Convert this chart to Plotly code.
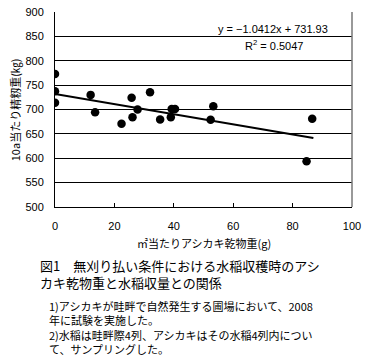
import plotly.graph_objects as go

# Data
weed_dry_weight = [0, 0, 0, 12, 13.5, 22.4, 25.8, 26.1, 27.8, 32, 35.4, 39, 39.3, 40.4, 52.4, 53.3, 84.7, 86.6]
rice_yield = [773, 737.5, 713.7, 730, 694.5, 670.7, 724, 684, 700, 735.5, 679.5, 684, 701, 701, 679, 706.8, 594, 681]
trend_slope = -1.0412
trend_intercept = 731.93
trend_x = [0, 87]
trend_y = [trend_intercept + trend_slope * v for v in trend_x]
x_ticks = [0, 20, 40, 60, 80, 100]
y_ticks = [500, 550, 600, 650, 700, 750, 800, 850, 900]

W, H = 372, 360
L, T = 55, 11.5
PW, PH = 297, 195.5
R = W - L - PW
B = H - T - PH


def px(x):
    return (x - L) / PW


def py(y):
    return (T + PH - y) / PH


JP = "Noto Sans CJK JP, Liberation Sans, sans-serif"
AR = "Liberation Sans, Arial, Noto Sans CJK JP, sans-serif"

fig = go.Figure()
fig.add_trace(go.Scatter(x=trend_x, y=trend_y, mode="lines",
                         line=dict(color="black", width=2), hoverinfo="skip"))
fig.add_trace(go.Scatter(x=weed_dry_weight, y=rice_yield, mode="markers",
                         marker=dict(color="black", size=8.5)))

fig.update_xaxes(range=[0, 100], tickvals=x_ticks, showgrid=False, zeroline=False,
                 showline=True, linecolor="black", linewidth=1, mirror=False,
                 ticks="inside", ticklen=4, tickcolor="black", automargin=False,
                 ticklabelstandoff=9,
                 tickfont=dict(family=AR, size=11, color="black"))
fig.update_yaxes(range=[500, 900], tickvals=y_ticks, showgrid=True, gridcolor="black",
                 gridwidth=1, zeroline=False, showline=True, linecolor="black",
                 linewidth=1, ticks="", ticklabelstandoff=8, automargin=False,
                 tickfont=dict(family=AR, size=11, color="black"))

shapes = [dict(type="line", xref="paper", yref="paper", x0=1, x1=1, y0=0, y1=1,
               line=dict(color="#777777", width=1.5))]


def ann(text, x, y, size, family, xanchor="center", angle=0):
    return dict(text=text, x=px(x), y=py(y), xref="paper", yref="paper",
                xanchor=xanchor, yanchor="middle", showarrow=False, textangle=angle,
                align="left", font=dict(family=family, size=size, color="black"))


annotations = [
    ann("y = −1.0412x + 731.93", 273, 29, 11, AR),
    ann("R<sup>2</sup> = 0.5047", 274, 45, 11, AR),
    ann("10a当たり精籾重(㎏)", 15, 110, 11, JP, angle=-90),
    ann("㎡当たりアシカキ乾物重(g)", 204, 243, 11, JP),
    ann("図1　無刈り払い条件における水稲収穫時のアシ<br>カキ乾物重と水稲収量との関係",
        38, 274.5, 13, JP, xanchor="left"),
    ann("1)アシカキが畦畔で自然発生する圃場において、2008<br>年に試験を実施した。"
        "<br>2)水稲は畦畔際4列、アシカキはその水稲4列内につい<br>て、サンプリングした。",
        47, 328, 11, JP, xanchor="left"),
]

fig.update_layout(width=W, height=H, margin=dict(l=L, r=R, t=T, b=B, autoexpand=False),
                  paper_bgcolor="white", plot_bgcolor="white", showlegend=False,
                  shapes=shapes, annotations=annotations)

fig.write_html("out.html", config={"displayModeBar": False},
               post_script="document.body.style.margin='0';")
